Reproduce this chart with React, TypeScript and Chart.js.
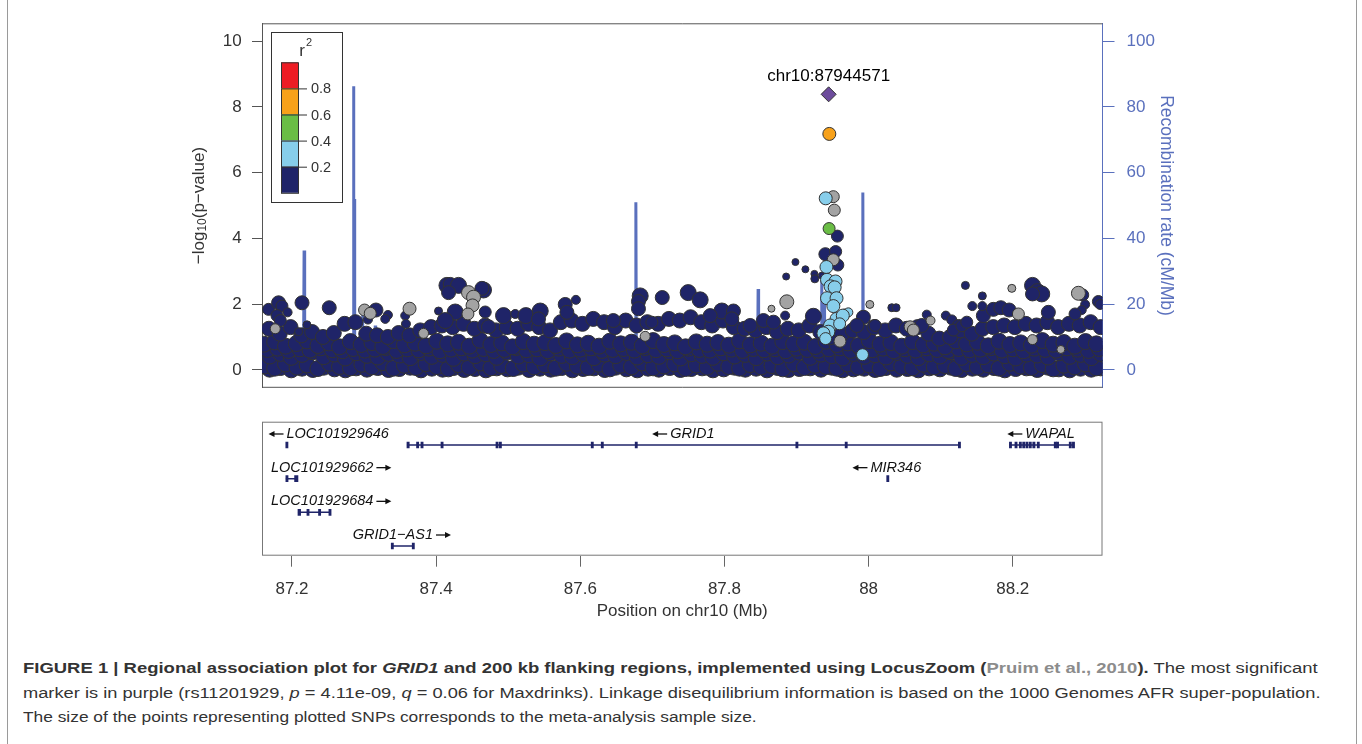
import React, { useEffect, useLayoutEffect, useRef, useState } from 'react';
import { Chart, registerables } from 'chart.js';

Chart.register(...registerables);

const FONT = '"Liberation Sans", Arial, Helvetica, sans-serif';

// ---------------- axes ----------------
const positionRange = [87.1584, 88.3245];
const positionTicks = [87.2, 87.4, 87.6, 87.8, 88.0, 88.2];
const positionTickLabels = ['87.2', '87.4', '87.6', '87.8', '88', '88.2'];
const logPRange = [-0.547, 10.547];
const logPTicks = [0, 2, 4, 6, 8, 10];
const recombRange = [-5.47, 105.47];
const recombTicks = [0, 20, 40, 60, 80, 100];

// ---------------- LD legend ----------------
const ldBreaks = [0.2, 0.4, 0.6, 0.8];
const ldColors = ['#1f2468', '#87ceeb', '#6abd45', '#f7a11a', '#ed1c24'];
const noLdColor = '#a3a3a3';
const leadColor = '#6d4c9c';
const recombColor = '#5a70bd';

// ---------------- recombination rate (cM/Mb) ----------------
const recombPos = [87.159, 87.18, 87.216, 87.2168, 87.2176, 87.25, 87.2848, 87.2854, 87.2859, 87.2864, 87.287, 87.2973, 87.2979, 87.2985, 87.315, 87.3155, 87.3161, 87.4, 87.5, 87.6, 87.6765, 87.6771, 87.6778, 87.75, 87.846, 87.8467, 87.8474, 87.9344, 87.935, 87.9356, 87.9378, 87.9383, 87.9389, 87.9914, 87.992, 87.9926, 88.1, 88.2, 88.324];
const recombRate = [1.5, 2, 1.5, 36.3, 2, 1, 3, 86.3, 20, 52, 3, 2, 17, 2, 1, 13.5, 1, 1.5, 0.8, 1.2, 2, 51, 2, 1, 2, 24.6, 2, 2, 27, 3, 2, 22, 2, 3, 54, 3, 1, 1.5, 1];

// ---------------- SNPs: [position Mb, -log10 p, sample size (k)] ----------------
// r2 < 0.2 : dense lower band
const bandE = [[87.169,0.02],[87.184,0.07],[87.199,0.0],[87.214,0.05],[87.229,0.01],[87.244,0.08],[87.259,0.03],[87.274,0.0],[87.289,0.06],[87.304,0.02],[87.319,0.07],[87.334,0.01],[87.349,0.04],[87.364,0.08],[87.379,0.0],[87.394,0.05],[87.409,0.02],[87.424,0.07],[87.439,0.01],[87.454,0.04],[87.469,0.0],[87.484,0.06],[87.499,0.03],[87.514,0.08],[87.529,0.01],[87.544,0.05],[87.559,0.02],[87.574,0.07],[87.589,0.0],[87.604,0.04],[87.619,0.06],[87.634,0.01],[87.649,0.08],[87.664,0.03],[87.679,0.0],[87.694,0.05],[87.709,0.02],[87.724,0.07],[87.739,0.01],[87.754,0.04],[87.769,0.06],[87.784,0.0],[87.799,0.03],[87.814,0.08],[87.829,0.02],[87.844,0.05],[87.859,0.0],[87.874,0.07],[87.889,0.01],[87.904,0.04],[87.919,0.06],[87.934,0.02],[87.949,0.08],[87.964,0.0],[87.979,0.03],[87.994,0.05],[88.009,0.01],[88.024,0.07],[88.039,0.02],[88.054,0.04],[88.069,0.0],[88.084,0.06],[88.099,0.03],[88.114,0.08],[88.129,0.01],[88.144,0.05],[88.159,0.02],[88.174,0.07],[88.189,0.0],[88.204,0.04],[88.219,0.06],[88.234,0.01],[88.249,0.08],[88.264,0.03],[88.279,0.0],[88.294,0.05],[88.309,0.02],[88.322,0.06]];
const bandA = [[87.162,0.12],[87.176,0.05],[87.191,0.18],[87.207,0.08],[87.221,0.15],[87.236,0.04],[87.252,0.2],[87.266,0.1],[87.281,0.06],[87.297,0.17],[87.311,0.09],[87.326,0.22],[87.341,0.05],[87.356,0.14],[87.372,0.07],[87.386,0.19],[87.401,0.1],[87.417,0.03],[87.431,0.16],[87.446,0.08],[87.462,0.21],[87.476,0.06],[87.491,0.13],[87.507,0.04],[87.521,0.18],[87.536,0.09],[87.551,0.15],[87.566,0.05],[87.581,0.2],[87.596,0.11],[87.611,0.07],[87.626,0.17],[87.641,0.03],[87.656,0.14],[87.671,0.09],[87.686,0.21],[87.701,0.06],[87.716,0.12],[87.731,0.18],[87.746,0.04],[87.761,0.15],[87.776,0.08],[87.791,0.2],[87.806,0.1],[87.821,0.05],[87.836,0.16],[87.851,0.09],[87.866,0.13],[87.881,0.03],[87.896,0.19],[87.911,0.07],[87.926,0.14],[87.941,0.1],[87.956,0.05],[87.971,0.18],[87.986,0.08],[88.001,0.15],[88.016,0.04],[88.031,0.21],[88.046,0.1],[88.061,0.06],[88.076,0.17],[88.091,0.09],[88.106,0.13],[88.121,0.04],[88.136,0.19],[88.151,0.08],[88.166,0.15],[88.181,0.05],[88.196,0.2],[88.211,0.11],[88.226,0.07],[88.241,0.16],[88.256,0.03],[88.271,0.14],[88.286,0.09],[88.301,0.18],[88.316,0.06]];
const bandB = [[87.169,0.42],[87.184,0.5],[87.199,0.38],[87.214,0.47],[87.229,0.55],[87.244,0.4],[87.259,0.48],[87.274,0.36],[87.289,0.52],[87.304,0.44],[87.319,0.39],[87.334,0.5],[87.349,0.45],[87.364,0.37],[87.379,0.53],[87.394,0.41],[87.409,0.47],[87.424,0.35],[87.439,0.51],[87.454,0.43],[87.469,0.49],[87.484,0.38],[87.499,0.54],[87.514,0.42],[87.529,0.46],[87.544,0.36],[87.559,0.52],[87.574,0.44],[87.589,0.4],[87.604,0.5],[87.619,0.37],[87.634,0.48],[87.649,0.43],[87.664,0.53],[87.679,0.39],[87.694,0.46],[87.709,0.41],[87.724,0.55],[87.739,0.36],[87.754,0.49],[87.769,0.44],[87.784,0.38],[87.799,0.52],[87.814,0.42],[87.829,0.47],[87.844,0.37],[87.859,0.51],[87.874,0.4],[87.889,0.45],[87.904,0.54],[87.919,0.38],[87.934,0.48],[87.949,0.43],[87.964,0.36],[87.979,0.5],[87.994,0.41],[88.009,0.46],[88.024,0.39],[88.039,0.53],[88.054,0.44],[88.069,0.37],[88.084,0.49],[88.099,0.42],[88.114,0.55],[88.129,0.38],[88.144,0.47],[88.159,0.4],[88.174,0.51],[88.189,0.43],[88.204,0.36],[88.219,0.48],[88.234,0.45],[88.249,0.39],[88.264,0.52],[88.279,0.41],[88.294,0.47],[88.309,0.37],[88.322,0.5]];
const bandF = [[87.166,0.62],[87.18,0.66],[87.195,0.59],[87.211,0.64],[87.225,0.6],[87.24,0.67],[87.256,0.61],[87.27,0.58],[87.285,0.65],[87.301,0.6],[87.315,0.63],[87.33,0.68],[87.345,0.59],[87.36,0.64],[87.376,0.61],[87.39,0.66],[87.405,0.58],[87.421,0.63],[87.435,0.67],[87.45,0.6],[87.466,0.65],[87.48,0.59],[87.495,0.62],[87.511,0.68],[87.525,0.61],[87.54,0.64],[87.555,0.58],[87.57,0.66],[87.585,0.6],[87.6,0.63],[87.615,0.67],[87.63,0.59],[87.645,0.62],[87.66,0.65],[87.675,0.6],[87.69,0.68],[87.705,0.61],[87.72,0.64],[87.735,0.58],[87.75,0.66],[87.765,0.62],[87.78,0.6],[87.795,0.67],[87.81,0.63],[87.825,0.59],[87.84,0.65],[87.855,0.61],[87.87,0.64],[87.885,0.58],[87.9,0.66],[87.915,0.62],[87.93,0.6],[87.945,0.64],[87.96,0.67],[87.975,0.59],[87.99,0.63],[88.005,0.61],[88.02,0.66],[88.035,0.58],[88.05,0.64],[88.065,0.6],[88.08,0.67],[88.095,0.62],[88.11,0.59],[88.125,0.65],[88.14,0.61],[88.155,0.63],[88.17,0.68],[88.185,0.6],[88.2,0.64],[88.215,0.58],[88.23,0.66],[88.245,0.62],[88.26,0.6],[88.275,0.67],[88.29,0.63],[88.305,0.59],[88.32,0.65]];
const bandC = [[87.161,0.78],[87.176,0.85],[87.191,0.72],[87.206,0.8],[87.221,0.88],[87.236,0.74],[87.251,0.82],[87.266,0.7],[87.281,0.86],[87.296,0.77],[87.311,0.83],[87.326,0.71],[87.341,0.89],[87.356,0.76],[87.371,0.81],[87.386,0.73],[87.401,0.87],[87.416,0.79],[87.431,0.84],[87.446,0.72],[87.461,0.9],[87.476,0.77],[87.491,0.82],[87.506,0.7],[87.521,0.86],[87.536,0.78],[87.551,0.83],[87.566,0.74],[87.581,0.88],[87.596,0.76],[87.611,0.81],[87.626,0.72],[87.641,0.87],[87.656,0.79],[87.671,0.84],[87.686,0.73],[87.701,0.89],[87.716,0.77],[87.731,0.82],[87.746,0.7],[87.761,0.85],[87.776,0.78],[87.791,0.83],[87.806,0.75],[87.821,0.88],[87.836,0.76],[87.851,0.81],[87.866,0.72],[87.881,0.86],[87.896,0.79],[87.911,0.84],[87.926,0.71],[87.941,0.87],[87.956,0.77],[87.971,0.82],[87.986,0.74],[88.001,0.89],[88.016,0.78],[88.031,0.83],[88.046,0.72],[88.061,0.86],[88.076,0.76],[88.091,0.81],[88.106,0.7],[88.121,0.88],[88.136,0.79],[88.151,0.84],[88.166,0.73],[88.181,0.87],[88.196,0.77],[88.211,0.82],[88.226,0.75],[88.241,0.89],[88.256,0.78],[88.271,0.83],[88.286,0.72],[88.301,0.86],[88.316,0.79]];
const bandD = [[87.168,1.25],[87.183,1.1],[87.198,1.3],[87.213,1.05],[87.228,1.15],[87.243,1.0],[87.258,1.12],[87.273,1.4],[87.288,1.45],[87.303,1.1],[87.318,1.05],[87.333,1.0],[87.348,1.12],[87.363,1.05],[87.378,1.2],[87.393,1.3],[87.408,1.35],[87.423,1.3],[87.438,1.4],[87.453,1.25],[87.468,1.35],[87.483,1.2],[87.498,1.3],[87.513,1.25],[87.528,1.4],[87.543,1.3],[87.558,1.2],[87.573,1.45],[87.588,1.5],[87.603,1.4],[87.618,1.55],[87.633,1.45],[87.648,1.3],[87.663,1.5],[87.678,1.35],[87.693,1.45],[87.708,1.4],[87.723,1.55],[87.738,1.5],[87.753,1.6],[87.768,1.45],[87.783,1.35],[87.798,1.5],[87.813,1.3],[87.828,1.25],[87.843,1.2],[87.858,1.3],[87.873,1.15],[87.888,1.25],[87.903,1.2],[87.918,1.35],[87.933,1.15],[87.948,1.0],[87.963,1.1],[87.978,1.2],[87.993,1.15],[88.008,1.3],[88.023,1.2],[88.038,1.35],[88.053,1.25],[88.068,1.3],[88.083,1.1],[88.098,0.95],[88.113,1.0],[88.128,1.2],[88.143,1.1],[88.158,1.25],[88.173,1.3],[88.188,1.35],[88.203,1.3],[88.218,1.4],[88.233,1.35],[88.248,1.45],[88.263,1.3],[88.278,1.4],[88.293,1.35],[88.308,1.45],[88.322,1.3]];
// r2 < 0.2 : points above the band
const navyExtra = [[87.1675,1.84,6],[87.1814,2.04,7],[87.1861,1.94,6],[87.1939,1.75,4.5],[87.1792,1.65,6],[87.1838,1.5,6],[87.2139,2.04,7],[87.2208,1.37,4],[87.2517,1.89,7],[87.2092,1.16,4],[87.3165,1.82,7],[87.3054,1.53,4.5],[87.3331,1.67,4.5],[87.3294,1.55,4.5],[87.3571,1.65,4.5],[87.3581,1.4,4.5],[87.4033,1.79,4],[87.415,2.57,8],[87.4196,2.6,7],[87.4311,2.57,8],[87.4172,2.35,7],[87.4657,2.43,8],[87.4635,2.48,7],[87.4265,1.76,8],[87.4126,1.5,8],[87.4681,1.76,6],[87.4935,1.65,8],[87.5097,1.7,4.5],[87.5245,1.65,8],[87.5444,1.79,8],[87.542,1.55,7],[87.5791,1.99,7],[87.5939,2.13,4.5],[87.6831,2.25,8],[87.6807,2.08,7],[87.6807,1.86,7],[87.6993,1.45,6],[87.4727,1.31,7],[87.5814,1.75,7],[87.6458,1.5,7],[87.7137,2.2,7],[87.7497,2.35,8],[87.7663,2.13,8],[87.7964,1.79,8],[87.8125,1.79,7],[87.7802,1.65,7],[87.8102,1.55,7],[87.8357,1.35,7],[87.8541,1.5,7],[87.868,1.45,7],[87.8842,1.65,4.5],[87.9234,1.63,8],[87.9928,1.6,7],[87.9836,1.35,7],[88.009,1.35,6],[88.0322,1.89,4],[88.0381,1.89,4],[88.0738,1.35,7],[88.0807,1.68,4.5],[88.1071,1.65,4.5],[88.1154,1.52,5],[88.1246,1.35,6],[88.1592,1.65,7],[88.1731,1.84,7],[88.1343,2.57,4],[88.1578,2.25,4],[88.1439,1.94,4.5],[88.1578,1.94,4.5],[88.1834,1.89,7],[88.195,1.82,7],[88.2274,2.57,8],[88.2343,2.38,8],[88.2402,2.31,8],[88.2274,2.31,7],[88.2971,2.28,6],[88.3004,1.99,4.5],[88.2957,1.82,4.5],[88.3188,2.08,6],[88.3211,1.99,5],[88.2494,1.75,7],[88.2864,1.7,6],[88.1176,1.21,6],[88.1293,1.34,6],[88.1362,1.45,6],[87.9567,4.07,6],[87.94,3.52,6.5],[87.9543,3.6,6],[87.9573,3.19,6],[87.8985,3.28,3.5],[87.9123,3.06,3.5],[87.8856,2.84,3.5],[87.9248,2.92,3.5],[87.9254,2.77,4],[87.9351,2.87,3.5]];
// no LD information
const grayExtra = [[87.951,5.27,6],[87.9524,4.86,6],[87.951,3.35,6],[87.8865,2.07,7],[87.8652,1.86,3.5],[88.0017,1.99,4],[87.3007,1.82,6],[87.3086,1.72,6],[87.3631,1.86,6.5],[87.4449,2.35,7],[87.4519,2.21,7],[87.4505,1.96,6.5],[87.4441,1.7,6],[87.3825,1.11,5],[88.1987,2.48,4],[88.2911,2.33,7],[88.2078,1.7,6],[88.0576,1.31,6],[88.0621,1.21,6],[88.0859,1.5,4.5],[87.1768,1.25,5],[87.9603,0.87,6],[88.2274,0.92,5],[88.2667,0.62,4],[87.69,1.02,5]];
// 0.2 <= r2 < 0.4
const lightBlue = [[87.9405,5.22,6.5],[87.9415,3.13,6.5],[87.9423,2.74,6.5],[87.9541,2.69,6.5],[87.9472,2.54,6.5],[87.9529,2.51,6.5],[87.9423,2.18,6.5],[87.9555,2.18,6.5],[87.9511,1.94,6.5],[87.9672,1.7,5],[87.9719,1.75,4.5],[87.9555,1.55,6.5],[87.9465,1.35,6.5],[87.9442,1.16,6.5],[87.9373,1.11,6.5],[87.9642,1.65,6.5],[87.9915,0.46,6],[87.9598,1.4,6],[87.9404,0.95,6]];
// 0.4 <= r2 < 0.6
const green = [[87.9452,4.3,6]];
// 0.6 <= r2 < 0.8
const orange = [[87.9455,7.18,6.5]];
// index SNP
const leadPos = 87.944571;
const leadLogP = 8.386;
const leadLabel = 'chr10:87944571';

// ---------------- genes ----------------
const geneNames = ['LOC101929646', 'GRID1', 'WAPAL', 'LOC101929662', 'MIR346', 'LOC101929684', 'GRID1\u2212AS1'];
const geneStart = [87.1914, 87.3595, 88.1953, 87.1915, 88.0251, 87.2083, 87.3377];
const geneEnd = [87.192, 88.1263, 88.2832, 87.2083, 88.0255, 87.2517, 87.3673];
const geneRow = [1, 1, 1, 2, 2, 3, 4];
const geneStrand = ['-', '-', '-', '+', '-', '+', '+'];
const geneExons = [
  [[87.1914, 87.192]],
  [[87.3595, 87.3627], [87.3728, 87.3733], [87.3789, 87.3794], [87.4067, 87.4072], [87.483, 87.4841], [87.4876, 87.4888], [87.6151, 87.6156], [87.629, 87.6295], [87.6761, 87.6766], [87.899, 87.8995], [87.9674, 87.9679], [88.1245, 88.1263]],
  [[88.1953, 88.1981], [88.203, 88.2035], [88.209, 88.2095], [88.2137, 88.2142], [88.2182, 88.2187], [88.2228, 88.2233], [88.2277, 88.2309], [88.2339, 88.2344], [88.2575, 88.258], [88.2606, 88.2611], [88.2783, 88.2788], [88.2827, 88.2832]],
  [[87.1915, 87.192], [87.2036, 87.2083]],
  [[88.0251, 88.0255]],
  [[87.2083, 87.212], [87.2207, 87.2212], [87.2368, 87.2373], [87.2512, 87.2517]],
  [[87.3377, 87.3382], [87.3668, 87.3673]],
];

const pointEdge = '#333333';
const geneColor = '#1f2468';

const toPoints = (rows: number[][], n: number) => rows.map((r) => ({ x: r[0], y: r[1], n: r[2] ?? n }));
const radiusOf = (c: any) => (c.raw && c.raw.n) || 4;

function snpDataset(label: string, pts: any[], color: string, order: number, extra: any = {}) {
  return {
    label,
    data: pts,
    backgroundColor: color,
    borderColor: pointEdge,
    borderWidth: 1,
    pointRadius: radiusOf,
    pointHoverRadius: radiusOf,
    order,
    ...extra,
  };
}

function drawArrow(ctx: CanvasRenderingContext2D, x1: number, x2: number, y: number) {
  const dir = Math.sign(x2 - x1);
  ctx.beginPath();
  ctx.moveTo(x1, y);
  ctx.lineTo(x2 - dir * 4, y);
  ctx.lineWidth = 1.3;
  ctx.stroke();
  ctx.beginPath();
  ctx.moveTo(x2, y);
  ctx.lineTo(x2 - dir * 6, y - 3);
  ctx.lineTo(x2 - dir * 6, y + 3);
  ctx.closePath();
  ctx.fill();
}

const topPlugin = {
  id: 'topDecor',
  afterDatasetsDraw(chart: any) {
    const { ctx, chartArea: a, scales } = chart;
    ctx.save();
    ctx.strokeStyle = '#555';
    ctx.lineWidth = 1;
    ctx.beginPath();
    ctx.moveTo(a.left, a.top + 0.5);
    ctx.lineTo(a.right, a.top + 0.5);
    ctx.moveTo(a.left, a.bottom - 0.5);
    ctx.lineTo(a.right, a.bottom - 0.5);
    ctx.stroke();

    const lx = scales.x.getPixelForValue(leadPos);
    const ly = scales.y.getPixelForValue(leadLogP);
    ctx.fillStyle = '#000';
    ctx.font = `17px ${FONT}`;
    ctx.textAlign = 'center';
    ctx.textBaseline = 'middle';
    ctx.fillText(leadLabel, lx, ly - 17.5);

    const bx = 271, by = 32, bw = 71, bh = 170;
    ctx.strokeStyle = '#333';
    ctx.strokeRect(bx + 0.5, by + 0.5, bw, bh);
    ctx.fillStyle = '#333';
    ctx.font = `17px ${FONT}`;
    ctx.textAlign = 'center';
    ctx.fillText('r', 302, 51);
    ctx.font = `11px ${FONT}`;
    ctx.fillText('2', 309, 43);
    const cellH = 26.1, cx0 = 281, cw = 17, top0 = 62.3;
    const n = ldColors.length;
    for (let i = 0; i < n; i++) {
      const y0 = top0 + i * cellH;
      ctx.fillStyle = ldColors[n - 1 - i];
      ctx.fillRect(cx0, y0, cw, cellH);
      ctx.strokeStyle = '#333';
      ctx.strokeRect(cx0 + 0.5, y0 + 0.5, cw, cellH);
    }
    ctx.font = `14.5px ${FONT}`;
    ctx.textAlign = 'left';
    ctx.fillStyle = '#333';
    for (let i = 0; i < ldBreaks.length; i++) {
      const y = top0 + (ldBreaks.length - i) * cellH;
      ctx.beginPath();
      ctx.moveTo(cx0 + cw, y + 0.5);
      ctx.lineTo(cx0 + cw + 9, y + 0.5);
      ctx.stroke();
      ctx.fillText(String(ldBreaks[i]), 311, y + 1);
    }

    ctx.translate(199, (a.top + a.bottom) / 2);
    ctx.rotate(-Math.PI / 2);
    ctx.fillStyle = '#333';
    const big = `17px ${FONT}`, small = `12px ${FONT}`;
    const p1 = '\u2212log', p2 = '10', p3 = '(p\u2212value)';
    ctx.font = big; const w1 = ctx.measureText(p1).width; const w3 = ctx.measureText(p3).width;
    ctx.font = small; const w2 = ctx.measureText(p2).width;
    let x = -(w1 + w2 + w3) / 2;
    ctx.textAlign = 'left';
    ctx.textBaseline = 'middle';
    ctx.font = big; ctx.fillText(p1, x, 0); x += w1;
    ctx.font = small; ctx.fillText(p2, x, 4); x += w2;
    ctx.font = big; ctx.fillText(p3, x, 0);
    ctx.restore();
  },
};

const genePlugin = {
  id: 'geneDecor',
  afterDatasetsDraw(chart: any) {
    const { ctx, chartArea: a, scales } = chart;
    ctx.save();
    ctx.strokeStyle = '#777';
    ctx.lineWidth = 1;
    ctx.strokeRect(a.left + 0.5, a.top + 0.5, a.right - a.left - 1, a.bottom - a.top - 1);
    ctx.font = `italic 14.5px ${FONT}`;
    ctx.fillStyle = '#111';
    ctx.strokeStyle = '#111';
    ctx.textBaseline = 'middle';
    ctx.textAlign = 'left';
    for (let i = 0; i < geneNames.length; i++) {
      const cx = (scales.x.getPixelForValue(geneStart[i]) + scales.x.getPixelForValue(geneEnd[i])) / 2;
      const y = scales.y.getPixelForValue(geneRow[i]) - 11;
      const tw = ctx.measureText(geneNames[i]).width;
      const aw = 15, gap = 3;
      const total = tw + aw + gap;
      let left = cx - total / 2;
      left = Math.max(left, a.left + (geneStrand[i] === '-' ? 6.5 : 9));
      left = Math.min(left, a.right - 6 - total);
      if (geneStrand[i] === '-') {
        drawArrow(ctx, left + aw, left, y);
        ctx.fillText(geneNames[i], left + aw + gap, y);
      } else {
        ctx.fillText(geneNames[i], left, y);
        drawArrow(ctx, left + tw + gap, left + tw + gap + aw, y);
      }
    }
    ctx.restore();
  },
};

function buildTopChart(canvas: HTMLCanvasElement) {
  const recombData = recombPos.map((p, i) => ({ x: p, y: recombRate[i] }));
  const navyPts = [
    ...toPoints(bandE, 8), ...toPoints(bandA, 8), ...toPoints(bandB, 8), ...toPoints(bandF, 8),
    ...toPoints(bandC, 8), ...toPoints(bandD, 7.5), ...toPoints(navyExtra, 6),
  ];
  return new Chart(canvas, {
    type: 'scatter',
    data: {
      datasets: [
        { type: 'line', label: 'Recombination rate', data: recombData, yAxisID: 'y2', borderColor: recombColor, borderWidth: 3, pointRadius: 0, tension: 0, order: 10 } as any,
        snpDataset('r2 < 0.2', navyPts, ldColors[0], 6),
        snpDataset('no LD', toPoints(grayExtra, 6), noLdColor, 5),
        snpDataset('0.2-0.4', toPoints(lightBlue, 6), ldColors[1], 4),
        snpDataset('0.4-0.6', toPoints(green, 6), ldColors[2], 3),
        snpDataset('0.6-0.8', toPoints(orange, 6), ldColors[3], 2),
        snpDataset('index SNP', [{ x: leadPos, y: leadLogP, n: 7.5 }], leadColor, 1, { pointStyle: 'rectRot' }),
      ],
    },
    options: {
      animation: false,
      responsive: false,
      maintainAspectRatio: false,
      events: [],
      layout: { padding: { left: 0, right: 0, top: 23.3, bottom: 8.3 } },
      plugins: { legend: { display: false }, tooltip: { enabled: false } },
      scales: {
        x: { type: 'linear', min: positionRange[0], max: positionRange[1], display: false },
        y: {
          type: 'linear', position: 'left', min: logPRange[0], max: logPRange[1],
          afterBuildTicks: (s: any) => { s.ticks = logPTicks.map((v) => ({ value: v })); },
          afterFit: (s: any) => { s.width = 262; },
          ticks: { color: '#333', font: { family: FONT, size: 17 }, padding: 10.3, callback: (v: any) => String(v) },
          grid: { drawOnChartArea: false, drawTicks: true, tickLength: 10, color: '#555' },
          border: { display: true, color: '#555' },
        },
        y2: {
          type: 'linear', position: 'right', min: recombRange[0], max: recombRange[1],
          afterBuildTicks: (s: any) => { s.ticks = recombTicks.map((v) => ({ value: v })); },
          afterFit: (s: any) => { s.width = 1362 - 1102.5; },
          ticks: { color: recombColor, font: { family: FONT, size: 17 }, padding: 12, callback: (v: any) => String(v) },
          grid: { drawOnChartArea: false, drawTicks: true, tickLength: 12, color: recombColor },
          border: { display: true, color: recombColor },
          title: { display: true, text: 'Recombination rate (cM/Mb)', color: recombColor, font: { family: FONT, size: 17.5 }, padding: { top: 185.5, bottom: 0 } },
        },
      },
    } as any,
    plugins: [topPlugin],
  } as any);
}

function buildGeneChart(canvas: HTMLCanvasElement) {
  const bodies = geneNames
    .map((name, i) => ({ name, i }))
    .filter(({ i }) => geneEnd[i] - geneStart[i] > 0.002)
    .map(({ name, i }) => ({
      type: 'line', label: name, data: [{ x: geneStart[i], y: geneRow[i] }, { x: geneEnd[i], y: geneRow[i] }],
      borderColor: geneColor, borderWidth: 1.5, pointRadius: 0, order: 2,
    }));
  const exonData: any[] = [];
  geneExons.forEach((ex, i) => ex.forEach(([s, e]) => exonData.push({ x: [s, e], y: geneRow[i] })));
  return new Chart(canvas, {
    type: 'scatter',
    data: {
      datasets: [
        ...bodies,
        { type: 'bar', label: 'exons', indexAxis: 'y', data: exonData, backgroundColor: geneColor, borderWidth: 0, barThickness: 6, minBarLength: 2.2, order: 1 },
      ] as any,
    },
    options: {
      animation: false,
      responsive: false,
      maintainAspectRatio: false,
      events: [],
      layout: { padding: { left: 262, right: 1362 - 1102.5, top: 11.7, bottom: 0 } },
      plugins: { legend: { display: false }, tooltip: { enabled: false } },
      scales: {
        x: {
          type: 'linear', position: 'bottom', min: positionRange[0], max: positionRange[1], offset: false,
          afterBuildTicks: (s: any) => { s.ticks = positionTicks.map((v) => ({ value: v })); },
          afterFit: (s: any) => { s.height = 84.3; },
          ticks: { color: '#333', font: { family: FONT, size: 17 }, padding: 12.5, maxRotation: 0, autoSkip: false, callback: (_v: any, i: number) => positionTickLabels[i] },
          grid: { drawOnChartArea: false, drawTicks: true, tickLength: 11, color: '#666', offset: false },
          border: { display: false },
          title: { display: true, text: 'Position on chr10 (Mb)', color: '#333', font: { family: FONT, size: 17 }, padding: { top: 0, bottom: 18.8 } },
        },
        y: { type: 'linear', display: false, min: 0.308, max: 4.288, reverse: true, offset: false, grid: { offset: false } },
      },
    } as any,
    plugins: [genePlugin],
  } as any);
}

function FitLine({ top, width, children }: { top: number; width: number; children: any }) {
  const ref = useRef<HTMLSpanElement>(null);
  const [scale, setScale] = useState(1);
  useLayoutEffect(() => {
    if (ref.current) {
      const w = ref.current.offsetWidth;
      if (w > 0) setScale(width / w);
    }
  }, [width]);
  return (
    <div style={{ position: 'absolute', left: 23, top, whiteSpace: 'nowrap', lineHeight: '18px' }}>
      <span ref={ref} style={{ display: 'inline-block', transform: `scaleX(${scale})`, transformOrigin: '0 0', fontFamily: FONT, fontSize: '15.5px', color: '#333' }}>
        {children}
      </span>
    </div>
  );
}

export default function App() {
  const topRef = useRef<HTMLCanvasElement>(null);
  const geneRef = useRef<HTMLCanvasElement>(null);
  useEffect(() => {
    const c1 = buildTopChart(topRef.current!);
    const c2 = buildGeneChart(geneRef.current!);
    return () => { c1.destroy(); c2.destroy(); };
  }, []);
  return (
    <div style={{ position: 'absolute', left: 0, top: 0, width: 1362, height: 744, background: '#fff', overflow: 'hidden' }}>
      <canvas ref={topRef} width={1362} height={410} style={{ position: 'absolute', left: 0, top: 0, width: 1362, height: 410 }} />
      <canvas ref={geneRef} width={1362} height={230} style={{ position: 'absolute', left: 0, top: 410, width: 1362, height: 230 }} />
      <div style={{ position: 'absolute', left: 7, top: 0, width: 1, height: 744, background: '#9a9a9a' }} />
      <div style={{ position: 'absolute', left: 1356, top: 0, width: 1, height: 744, background: '#9a9a9a' }} />
      <FitLine top={659} width={1295}>
        <b>FIGURE 1 | Regional association plot for <i>GRID1</i> and 200 kb flanking regions, implemented using LocusZoom (<span style={{ color: '#8c8c8c' }}>Pruim et al., 2010</span>).</b> The most significant
      </FitLine>
      <FitLine top={684} width={1297}>
        marker is in purple (rs11201929, <i>p</i> = 4.11e-09, <i>q</i> = 0.06 for Maxdrinks). Linkage disequilibrium information is based on the 1000 Genomes AFR super-population.
      </FitLine>
      <FitLine top={708} width={734}>
        The size of the points representing plotted SNPs corresponds to the meta-analysis sample size.
      </FitLine>
    </div>
  );
}
